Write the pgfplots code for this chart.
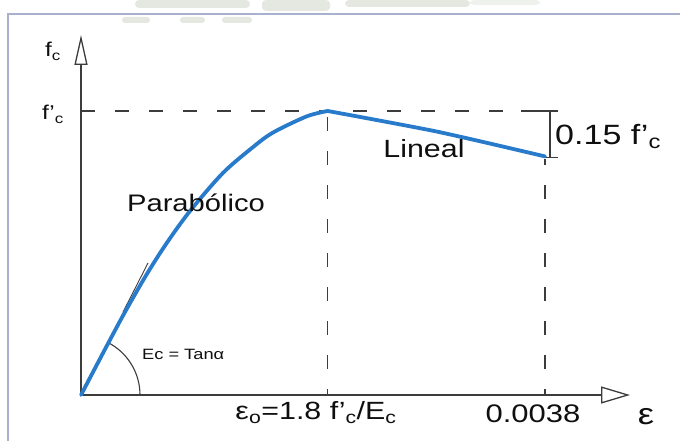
\documentclass[border=0pt]{standalone}
\usepackage{pgfplots}
\pgfplotsset{compat=1.18}
\usepackage{fontspec}
\setmainfont{Liberation Sans}[FakeStretch=1.22]
\usetikzlibrary{arrows.meta}
\definecolor{curveblue}{RGB}{40,122,202}
\definecolor{axisgray}{RGB}{60,60,60}
\definecolor{txt}{RGB}{15,15,15}
\definecolor{framecol}{RGB}{168,178,206}
\definecolor{wmark}{RGB}{228,232,224}
\newcommand{\fs}[1]{\fontsize{#1}{#1}\selectfont}
\begin{document}
\begin{tikzpicture}[x=1bp,y=1bp]
\useasboundingbox (0,0) rectangle (680,441);
% faint watermark
\fill[wmark,rounded corners=4bp] (135,433) rectangle (250,441);
\fill[wmark,rounded corners=4bp] (262,430) rectangle (330,441);
\fill[wmark,rounded corners=4bp] (345,434) rectangle (470,441);
\fill[wmark!60!white,rounded corners=4bp] (470,436) rectangle (540,441);
\fill[wmark,rounded corners=3bp] (122,418) rectangle (150,424);
\fill[wmark,rounded corners=3bp] (180,418) rectangle (205,424);
\fill[wmark,rounded corners=3bp] (222,418) rectangle (252,424);
% frame
\draw[framecol,line width=2bp] (680,427) -- (8,427) -- (8,0);
\begin{axis}[
  anchor=south west, at={(81bp,46bp)},
  scale only axis, width=549bp, height=360bp,
  xmin=0, xmax=4.496, ymin=0, ymax=1.2676,
  axis lines=none, clip=false,
]
% dashed guides
\draw[axisgray,line width=1.2bp,dash pattern=on 14bp off 20bp] (axis cs:0,1) -- (axis cs:3.604,1);
\draw[axisgray,line width=1.2bp,dash pattern=on 14bp off 20bp,dash phase=8bp] (axis cs:2.02,0) -- (axis cs:2.02,1);
\draw[axisgray,line width=1.2bp,dash pattern=on 14bp off 20bp,dash phase=8bp] (axis cs:3.8,0) -- (axis cs:3.8,0.83);
% bracket
\draw[axisgray,line width=1.2bp] (axis cs:3.604,1) -- (axis cs:3.907,1);
\draw[axisgray,line width=1.2bp] (axis cs:3.841,1) -- (axis cs:3.841,0.835);
\draw[axisgray,line width=1.2bp] (axis cs:3.784,0.835) -- (axis cs:3.907,0.835);
% axes with open arrows
\draw[axisgray,line width=1.3bp,-{Triangle[open,length=29bp,width=17bp]}] (axis cs:0,0) -- (axis cs:4.496,0);
\draw[axisgray,line width=1.3bp,-{Triangle[open,length=30bp,width=13bp]}] (axis cs:0,0) -- (axis cs:0,1.2676);
% tangent and angle arc
\draw[axisgray,line width=0.9bp] (axis cs:0.344,0.292) -- (axis cs:0.549,0.465);
\draw[axisgray,line width=1.1bp] (axis cs:0,0) ++(59bp,0) arc[start angle=0,end angle=61,radius=59bp];
% curve
\addplot[curveblue,line width=3.8bp,smooth,tension=0.5,line cap=round] coordinates {
(0,0) (0.210,0.172) (0.360,0.292) (0.538,0.425) (0.702,0.535) (0.893,0.648)
(1.163,0.782) (1.409,0.873) (1.572,0.924) (1.848,0.981) (2.02,1.0)
};
\addplot[curveblue,line width=3.8bp,line cap=round,smooth,tension=0.4] coordinates {
(2.02,1.0) (2.92,0.927) (3.8,0.84)
};
\end{axis}
% labels
\begin{scope}[every node/.style={inner sep=0,text=txt}]
\node[anchor=base] at (53,384) {\fs{20}f\textsubscript{c}};
\node[anchor=base] at (53,321) {\fs{20}f'\textsubscript{c}};
\node[anchor=base] at (196,229) {\fs{24}Parabólico};
\node[anchor=base] at (424,283) {\fs{25}Lineal};
\node[anchor=base west] at (555,296) {\fs{28}0.15 f'\textsubscript{c}};
\node[anchor=base west] at (142,81) {\fs{15}Ec = Tanα};
\node[anchor=base] at (316,21) {\fs{25}ε\textsubscript{o}=1.8 f'\textsubscript{c}/E\textsubscript{c}};
\node[anchor=base] at (533,18) {\fs{25.5}0.0038};
\node[anchor=base] at (646,16) {\fs{30}ε};
\end{scope}
\end{tikzpicture}
\end{document}
